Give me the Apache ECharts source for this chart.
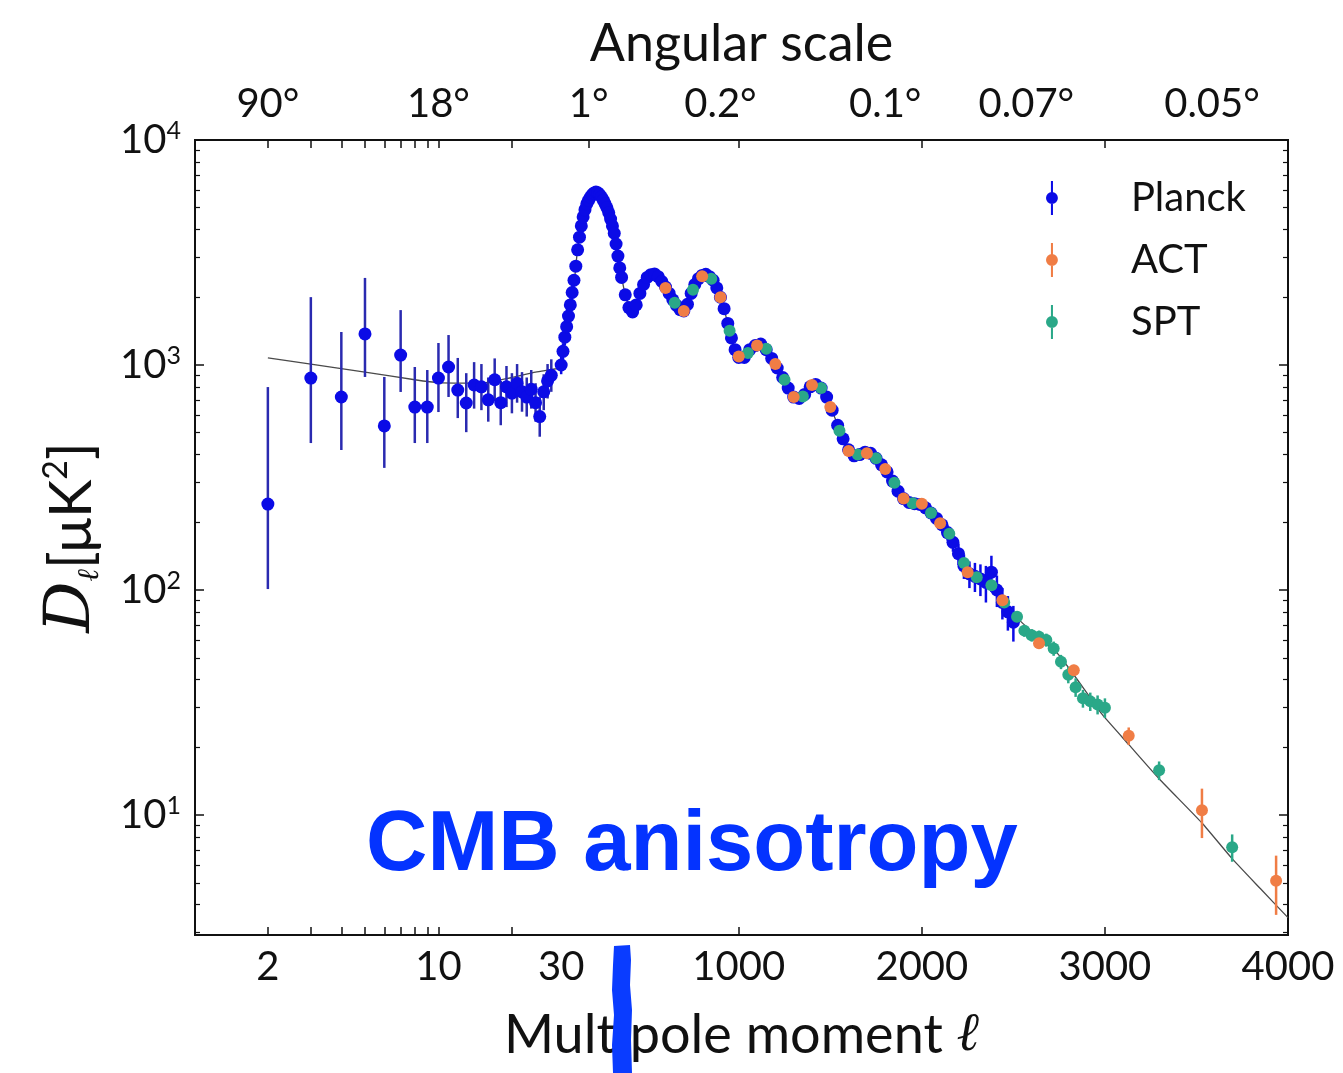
<!DOCTYPE html>
<html><head><meta charset="utf-8">
<script src="https://cdn.jsdelivr.net/npm/echarts@6/dist/echarts.min.js"></script>
<style>html,body{margin:0;padding:0;background:#fff}#c{width:1343px;height:1073px}</style>
</head><body><div id="c"></div>
<script>
// ---------- tick / label data ----------
const xTickLabels = [2, 10, 30, 1000, 2000, 3000, 4000];
const xTickMarks = [2, 3, 4, 5, 6, 7, 8, 9, 10, 20, 1000, 2000, 3000];
const angleLabels = ['90°', '18°', '1°', '0.2°', '0.1°', '0.07°', '0.05°'];
const angleEll = [2, 10, 180, 900, 1800, 2571, 3585];
const yTickValues = [10, 100, 1000, 10000];
const yMinorValues = [3,4,5,6,7,8,9,20,30,40,50,60,70,80,90,200,300,400,500,600,700,800,900,2000,3000,4000,5000,6000,7000,8000,9000];

// ---------- Planck low-ell (2-29): value, lower, upper ----------
const planckLowL  = [2,3,4,5,6,7,8,9,10,11,12,13,14,15,16,17,18,19,20,21,22,23,24,25,26,27,28,29];
const planckLowD  = [241,875,721,1374,536,1107,650,650,875,980,774,678,815,800,700,860,680,800,750,830,760,720,780,680,590,760,850,900];
const planckLowLo = [101,450,419,885,349,759,450,450,618,721,581,503,640,630,560,690,540,650,610,680,620,590,640,560,480,630,710,760];
const planckLowHi = [798,2003,1402,2438,885,1754,980,950,1253,1359,1075,920,1030,1010,880,1070,850,990,920,1010,930,880,950,830,720,910,1010,1060];

// ---------- Planck high-ell ----------
const planckHighL = [30,40,50,60,70,80,90,100,
  110,120,130,140,150,160,170,180,190,200,210,220,230,240,250,260,270,280,290,300,310,320,330,340,350,
  360,380,400,420,440,460,480,500,520,540,560,580,600,620,640,660,680,700,720,740,760,780,800,820,840,860,880,900,920,940,960,980,1000,
  1030,1060,1090,1120,1150,1180,1210,1240,1270,1300,1330,1360,1390,1420,1450,1480,1510,1540,1570,1600,1630,1660,1690,1720,1750,1780,1810,1840,1870,1900,1930,1960,1990,
  2020,2050,2080,2110,2140,2170,2200,2230,2260,2290,2320,2350,2380,2410,2440,2470,2500];
const planckHighD = [1000,1150,1330,1480,1650,1850,2100,2380,
  2750,3250,3700,4150,4550,4900,5200,5400,5580,5720,5820,5870,5830,5720,5580,5400,5200,5000,4750,4450,4150,3850,3450,3050,2700,
  2450,2050,1800,1720,1850,2080,2280,2450,2520,2540,2470,2350,2220,2080,1950,1840,1760,1740,1860,2080,2280,2420,2500,2530,2470,2380,2200,2000,1780,1530,1320,1170,1080,
  1080,1170,1220,1240,1170,1070,970,880,790,720,710,740,800,820,790,720,630,540,470,420,395,400,410,405,385,360,335,305,275,255,245,242,240,
  232,220,208,195,180,163,145,128,118,115,112,108,120,100,88,80,72];
const planckHighErr = [90,100,110,120,125,130,140,150,
  60,60,62,64,66,68,70,70,70,70,70,70,70,70,70,68,68,66,64,62,60,58,55,52,48,
  40,35,32,30,30,30,30,30,30,30,30,28,28,28,28,28,28,28,28,28,28,28,28,28,28,26,26,26,24,24,22,22,22,
  22,22,22,22,22,20,20,18,18,16,16,16,16,16,16,15,14,13,12,12,12,12,12,11,11,10,10,10,10,10,10,10,10,
  12,12,12,13,14,15,16,16,16,17,18,20,22,16,14,14,13];

// ---------- ACT ----------
const actL   = [600,700,800,900,1000,1100,1200,1300,1400,1500,1600,1700,1800,1900,2000,2100,2250,2440,2640,2830,3130,3530,3935];
const actD   = [2200,1740,2480,2000,1090,1220,1010,720,815,650,415,405,345,255,242,198,120,90,58,44,22.5,10.5,5.1];
const actErr = [40,35,40,35,25,25,20,15,15,12,10,9,8,7,6,6,5,4,3,2.5,2,2.6,1.5];

// ---------- SPT ----------
const sptL   = [650,750,850,950,1050,1150,1250,1350,1450,1550,1650,1750,1850,1950,2050,2150,2230,2300,2380,2450,2520,2560,2600,2640,2680,2720,2760,2800,2840,2880,2920,2960,3000,3296,3695];
const sptD   = [1890,2160,2420,1420,1130,1180,860,725,790,510,400,385,300,243,220,178,132,114,105,88,76,66,63,62,60,55,48,42,37,33,32,31,30,15.8,7.2];
const sptErr = [50,45,50,35,25,25,18,15,15,12,10,9,8,7,6,6,5,5,5,4,4,4,4,4,4,4,3.5,3.5,3.5,3,3,3,3,1.5,1.0];

// ---------- best-fit model ----------
const theoryL = [2,3,5,8,10,15,20,25,29.9,
  30,50,76,104,120,142,175,200,220,250,284,322,349,387,420,458,513,540,568,611,
  650,693,748,802,830,857,906,939,977,1020,1075,1130,1184,1239,1293,1348,1413,1468,1512,1566,
  1621,1680,1730,1806,1877,1932,2003,2079,2150,2205,2276,2368,2423,2494,2560,2603,2650,2734,2821,2900,
  2985,3132,3296,3531,3695,3850,4000];
const theoryD = [1075,1010,930,860,835,830,880,930,960,
  980,1330,1750,2450,3300,4250,5250,5700,5850,5600,5000,3850,2750,1950,1720,2080,2500,2540,2430,2150,
  1890,1730,2150,2500,2520,2400,1950,1540,1170,1060,1200,1230,1060,885,720,720,830,750,620,480,
  395,405,410,340,270,245,244,212,178,142,120,108,93,79,70,65,60,53,43,35,
  28,20.5,14.5,9.2,6.4,4.7,3.5];

// ---------- axis transform: log for ell<30, linear above ----------
function u(l) { return l >= 30 ? l : -1572 + 1333 * Math.log10(l / 2); }
const X_MIN = -1970, X_MAX = 4000, Y_MIN = 2.93, Y_MAX = 10000;

const C_PLANCK = '#0b0be6', C_PLANCK_BAR = '#2a2ab0';
const C_ACT = '#f07d45', C_SPT = '#2aa888';
const FONT = 'Lato, "DejaVu Sans", sans-serif';

const planckLowPts = planckLowL.map((l, i) => [u(l), planckLowD[i]]);
const planckLowBars = planckLowL.map((l, i) => [u(l), planckLowLo[i], planckLowHi[i]]);
const planckHighPts = planckHighL.map((l, i) => [u(l), planckHighD[i]]);
const planckHighBars = planckHighL.map((l, i) => [u(l), planckHighD[i] - planckHighErr[i], planckHighD[i] + planckHighErr[i]]);
const actPts = actL.map((l, i) => [u(l), actD[i]]);
const actBars = actL.map((l, i) => [u(l), actD[i] - actErr[i], actD[i] + actErr[i]]);
const sptPts = sptL.map((l, i) => [u(l), sptD[i]]);
const sptBars = sptL.map((l, i) => [u(l), sptD[i] - sptErr[i], sptD[i] + sptErr[i]]);
const theoryPts = theoryL.map((l, i) => [u(l), theoryD[i]]);

function errSeries(name, color, barColor, rows, z, w) {
  return {
    type: 'custom', name, z, clip: true,
    itemStyle: { color },
    data: rows,
    encode: { x: 0, y: [1, 2] },
    renderItem: function (params, api) {
      const p1 = api.coord([api.value(0), api.value(1)]);
      const p2 = api.coord([api.value(0), api.value(2)]);
      return { type: 'line', shape: { x1: p1[0], y1: p1[1], x2: p2[0], y2: p2[1] },
        style: { stroke: barColor, lineWidth: w } };
    }
  };
}
function dotSeries(name, color, pts, z, size) {
  return { type: 'scatter', name, z, data: pts, symbol: 'circle', symbolSize: size,
    itemStyle: { color, opacity: 1 }, clip: true };
}

const ICON = 'path://M4.4 0h1.2v20h-1.2z M1.5 10a3.5 3.5 0 1 1 7 0a3.5 3.5 0 1 1 -7 0z';

function lookup(vals, labels, v) {
  for (let i = 0; i < vals.length; i++) if (Math.abs(u(vals[i]) - v) < 1e-6) return String(labels[i]);
  return '';
}

const chart = echarts.init(document.getElementById('c'));
const yMajorTick = { show: true, inside: true, length: 9, lineStyle: { color: '#111', width: 1.5 }, customValues: yTickValues };
const yMinorTick = { show: true, inside: true, length: 5, lineStyle: { color: '#111', width: 1.2 }, customValues: yMinorValues };
const yBase = { type: 'log', logBase: 10, min: Y_MIN, max: Y_MAX, axisLine: { show: false, onZero: false }, splitLine: { show: false } };

chart.setOption({
  animation: false,
  backgroundColor: '#fff',
  textStyle: { fontFamily: FONT },
  grid: { left: 195, right: 55, top: 140, bottom: 138, show: true, borderColor: '#111', borderWidth: 2, backgroundColor: 'transparent' },
  legend: {
    orient: 'vertical', left: 1041, top: 173, itemWidth: 12, itemHeight: 34, itemGap: 22,
    data: [{ name: 'Planck', icon: ICON }, { name: 'ACT', icon: ICON }, { name: 'SPT', icon: ICON }],
    textStyle: { fontSize: 40, color: '#111', fontFamily: FONT, padding: [0, 0, 0, 68] }
  },
  xAxis: [
    {
      type: 'value', min: X_MIN, max: X_MAX, position: 'bottom',
      axisLine: { show: false, onZero: false }, splitLine: { show: false },
      axisTick: { show: true, inside: true, length: 8, lineStyle: { color: '#111', width: 1.5 }, customValues: xTickMarks.map(u) },
      axisLabel: { customValues: xTickLabels.map(u), formatter: v => lookup(xTickLabels, xTickLabels, v),
        fontSize: 40, color: '#111', margin: 12, fontFamily: FONT },
      name: 'Multipole moment {it|ℓ}', nameLocation: 'middle', nameGap: 74,
      nameTextStyle: { fontSize: 54, color: '#111', fontFamily: FONT,
        rich: { it: { fontSize: 54, fontStyle: 'italic', fontFamily: '"DejaVu Serif", serif', color: '#111' } } }
    },
    {
      type: 'value', min: X_MIN, max: X_MAX, position: 'top',
      axisLine: { show: false, onZero: false }, splitLine: { show: false },
      axisTick: { show: true, inside: true, length: 8, lineStyle: { color: '#111', width: 1.5 }, customValues: xTickMarks.concat([180]).map(u) },
      axisLabel: { customValues: angleEll.map(u), formatter: v => lookup(angleEll, angleLabels, v),
        fontSize: 40, color: '#111', margin: 16, fontFamily: FONT },
      name: 'Angular scale', nameLocation: 'middle', nameGap: 70,
      nameTextStyle: { fontSize: 52, color: '#111', fontFamily: FONT }
    }
  ],
  yAxis: [
    Object.assign({}, yBase, {
      position: 'left', axisTick: yMajorTick,
      axisLabel: { customValues: yTickValues, margin: 14,
        formatter: v => '{b|10}{s|' + Math.round(Math.log10(v)) + '}',
        rich: { b: { fontSize: 40, color: '#111', fontFamily: FONT, lineHeight: 44 },
                s: { fontSize: 25, color: '#111', fontFamily: FONT, verticalAlign: 'top', lineHeight: 26 } } },
      name: '{d|D}{sub|ℓ}{t|[μK}{sup|2}{t|]}', nameLocation: 'middle', nameGap: 90, nameRotate: 90,
      nameTextStyle: { rich: {
        d: { fontSize: 64, fontStyle: 'italic', fontFamily: '"DejaVu Serif", serif', color: '#111', lineHeight: 66 },
        sub: { fontSize: 30, fontStyle: 'italic', fontFamily: '"DejaVu Serif", serif', color: '#111', verticalAlign: 'bottom', lineHeight: 48 },
        t: { fontSize: 58, fontFamily: FONT, color: '#111', lineHeight: 66 },
        sup: { fontSize: 34, fontFamily: FONT, color: '#111', verticalAlign: 'top', lineHeight: 34 } } }
    }),
    Object.assign({}, yBase, { position: 'left', axisTick: yMinorTick, axisLabel: { show: false } }),
    Object.assign({}, yBase, { position: 'right', axisTick: yMajorTick, axisLabel: { show: false } }),
    Object.assign({}, yBase, { position: 'right', axisTick: yMinorTick, axisLabel: { show: false } })
  ],
  graphic: [
    { type: 'text', z: 100, style: { x: 366, y: 847, text: 'CMB anisotropy', fill: '#0433ff',
        font: 'bold 85px "Liberation Sans", Arial, sans-serif', verticalAlign: 'middle', align: 'left' } },
    { type: 'polygon', z: 100, shape: { points: [[614,946],[630,945],[631,960],[630,985],[632,1010],[631,1040],[632,1073],[613,1073],[612,1045],[614,1015],[612,990],[613,965]] },
      style: { fill: '#0a3cff' } }
  ],
  series: [
    { type: 'line', name: 'model', z: 1, data: theoryPts, symbol: 'none', smooth: 0.2, clip: true,
      lineStyle: { color: '#4a4a4a', width: 1.3 } },
    errSeries('Planck', C_PLANCK, C_PLANCK_BAR, planckLowBars, 2, 2.5),
    errSeries('Planck', C_PLANCK, C_PLANCK, planckHighBars, 2, 2.5),
    dotSeries('Planck', C_PLANCK, planckLowPts, 3, 13),
    dotSeries('Planck', C_PLANCK, planckHighPts, 3, 13),
    errSeries('SPT', C_SPT, C_SPT, sptBars, 4, 2.5),
    dotSeries('SPT', C_SPT, sptPts, 5, 12),
    errSeries('ACT', C_ACT, C_ACT, actBars, 6, 2.5),
    dotSeries('ACT', C_ACT, actPts, 7, 12)
  ]
});
</script></body></html>
